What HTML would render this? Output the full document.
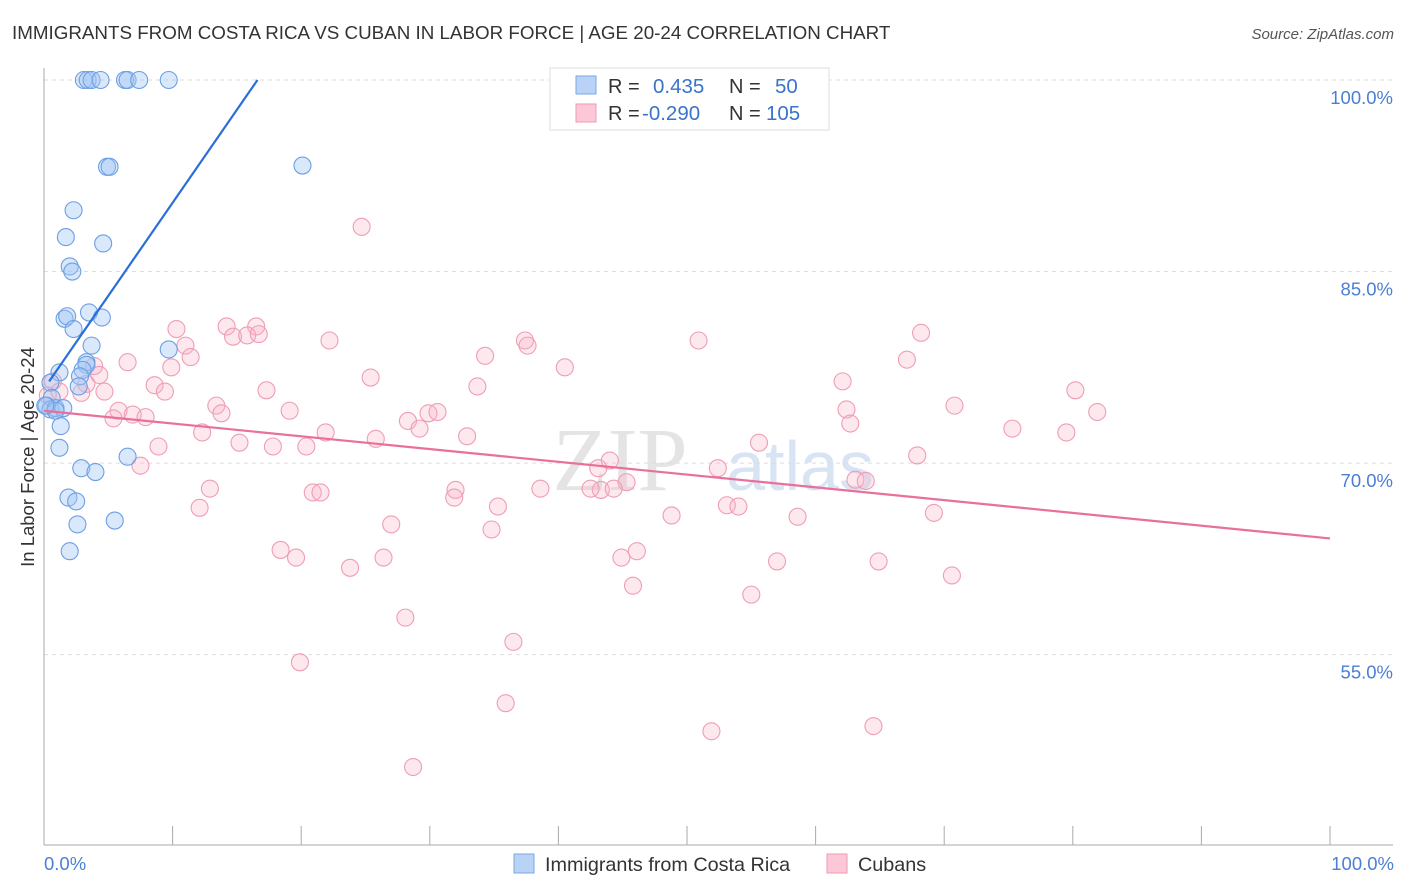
<!DOCTYPE html>
<html><head><meta charset="utf-8"><style>
body{margin:0;background:#fff;font-family:"Liberation Sans",sans-serif;}
#wrap{position:relative;width:1406px;height:892px;overflow:hidden;}
</style></head><body>
<div id="wrap">
<svg id="chart" width="1406" height="892">
<text x="12" y="39" font-size="18.8" fill="#333">IMMIGRANTS FROM COSTA RICA VS CUBAN IN LABOR FORCE | AGE 20-24 CORRELATION CHART</text>
<text x="1394" y="39" font-size="15" fill="#555" font-style="italic" text-anchor="end">Source: ZipAtlas.com</text>
<text x="620" y="490" font-size="90" fill="#e4e4e4" font-family="Liberation Serif" text-anchor="middle">ZIP</text>
<text x="800" y="490" font-size="70" fill="#d8e4f4" text-anchor="middle">atlas</text>
<g id="grid"></g>
<g id="axes"></g>
<g id="pts"></g>
<g id="lines"></g>
<text transform="translate(34,457) rotate(-90)" font-size="18.5" fill="#333" text-anchor="middle">In Labor Force | Age 20-24</text>
<text x="44" y="870" font-size="18.5" fill="#4a7fd4">0.0%</text>
<text x="1394" y="870" font-size="18.5" fill="#4a7fd4" text-anchor="end">100.0%</text>
<g>
<rect x="550" y="68" width="279" height="62" fill="#fff" stroke="#ddd"/>
<rect x="576" y="76" width="20" height="18" fill="#b8d3f5" stroke="#7aa8e6"/>
<rect x="576" y="104" width="20" height="18" fill="#fcc8d8" stroke="#ee9ab5"/>
<text x="608" y="93" font-size="20" fill="#333">R =</text>
<text x="653" y="93" font-size="20.5" fill="#3a73cc">0.435</text>
<text x="729" y="93" font-size="20" fill="#333">N =</text>
<text x="775" y="93" font-size="20.5" fill="#3a73cc">50</text>
<text x="608" y="120" font-size="20" fill="#333">R =</text>
<text x="642" y="120" font-size="20.5" fill="#3a73cc">-0.290</text>
<text x="729" y="120" font-size="20" fill="#333">N =</text>
<text x="766" y="120" font-size="20.5" fill="#3a73cc">105</text>
</g>
<g>
<rect x="514" y="854" width="20" height="19" fill="#b8d3f5" stroke="#7aa8e6"/>
<text x="545" y="871" font-size="19.8" fill="#333">Immigrants from Costa Rica</text>
<rect x="827" y="854" width="20" height="19" fill="#fcc8d8" stroke="#ee9ab5"/>
<text x="858" y="871" font-size="19.8" fill="#333">Cubans</text>
</g>
</svg>
</div>
<script>
const yTicks=[100,85,70,55];
const yTickLabels=["100.0%","85.0%","70.0%","55.0%"];
const blueX=[3.1,3.4,3.7,4.4,6.3,6.5,7.4,9.7,4.9,5.1,20.1,2.3,1.7,4.6,2.0,2.2,1.6,1.8,3.5,4.5,2.3,3.7,9.7,3.3,3.3,3.0,1.2,2.8,2.7,0.5,0.6,0.2,0.5,0.9,1.5,0.9,0.1,1.3,1.2,2.9,4.0,1.9,2.5,6.5,5.5,2.6,2.0];
const blueY=[100,100,100,100,100,100,100,100,93.2,93.2,93.3,89.8,87.7,87.2,85.4,85.0,81.3,81.5,81.8,81.4,80.5,79.2,78.9,77.9,77.7,77.3,77.1,76.8,76.0,76.3,75.1,74.5,74.2,74.3,74.3,74.1,74.5,72.9,71.2,69.6,69.3,67.3,67.0,70.5,65.5,65.2,63.1];
const pinkX=[24.7,10.3,14.2,16.5,14.7,15.8,16.7,11.0,11.4,9.9,6.5,3.9,4.3,3.3,0.7,0.3,1.2,2.9,4.7,8.6,9.4,17.3,22.2,25.4,34.3,37.4,37.6,33.7,40.5,50.9,68.2,67.1,62.1,62.4,62.7,70.8,80.2,81.9,75.3,79.5,67.9,52.4,43.1,44.0,45.3,43.3,42.5,44.3,38.6,53.1,54.0,48.8,58.6,63.1,63.9,69.2,5.8,6.9,7.9,5.4,13.4,13.8,19.1,28.3,29.2,29.9,30.6,25.8,21.9,20.4,17.8,15.2,12.3,8.9,7.5,12.9,12.1,20.9,21.5,32.0,31.9,35.3,34.8,32.9,27.0,18.4,19.6,23.8,26.4,46.1,44.9,45.8,55.0,57.0,64.9,70.6,28.1,36.5,19.9,35.9,51.9,64.5,28.7,55.6];
const pinkY=[88.5,80.5,80.7,80.7,79.9,80.0,80.1,79.2,78.3,77.5,77.9,77.6,76.9,76.2,76.4,75.3,75.6,75.5,75.6,76.1,75.6,75.7,79.6,76.7,78.4,79.6,79.2,76.0,77.5,79.6,80.2,78.1,76.4,74.2,73.1,74.5,75.7,74.0,72.7,72.4,70.6,69.6,69.6,70.2,68.5,67.9,68.0,68.0,68.0,66.7,66.6,65.9,65.8,68.7,68.6,66.1,74.1,73.8,73.6,73.5,74.5,73.9,74.1,73.3,72.7,73.9,74.0,71.9,72.4,71.3,71.3,71.6,72.4,71.3,69.8,68.0,66.5,67.7,67.7,67.9,67.3,66.6,64.8,72.1,65.2,63.2,62.6,61.8,62.6,63.1,62.6,60.4,59.7,62.3,62.3,61.2,57.9,56.0,54.4,51.2,49.0,49.4,46.2,71.6];
const blueTrend=[[0.4,76.4],[16.6,100]];
const pinkTrend=[[0,74.1],[100,64.1]];

const X=v=>44+v*12.86;
const Y=v=>80+(100-v)*12.77;
const NS="http://www.w3.org/2000/svg";
function mk(tag,attrs,parent){const e=document.createElementNS(NS,tag);for(const k in attrs)e.setAttribute(k,attrs[k]);document.getElementById(parent).appendChild(e);return e;}

yTicks.forEach((t,i)=>{
  const g=mk('line',{x1:44,x2:1393,y1:Y(t),y2:Y(t),stroke:'#ddd','stroke-dasharray':'4,4'},'grid');
  
  
  const l=mk('text',{x:1393,y:Y(t)+24,'font-size':18.5,fill:'#4a7fd4','text-anchor':'end'},'grid');
  l.textContent=yTickLabels[i];
  
  
});
let ax=mk('line',{x1:44,x2:44,y1:68,y2:845,stroke:'#aaa'},'axes');


ax=mk('line',{x1:44,x2:1393,y1:845,y2:845,stroke:'#aaa'},'axes');


for(let i=0;i<=10;i++){
  const t=mk('line',{x1:X(i*10),x2:X(i*10),y1:826,y2:845,stroke:'#aaa'},'axes');
  
  
}
pinkX.forEach((x,i)=>{
  const c=mk('circle',{cx:X(x),cy:Y(pinkY[i]),r:8.5,fill:'rgba(248,180,200,0.3)',stroke:'#ef9db6','stroke-width':1.1},'pts');
  
  
});
blueX.forEach((x,i)=>{
  const c=mk('circle',{cx:X(x),cy:Y(blueY[i]),r:8.5,fill:'rgba(160,198,244,0.4)',stroke:'#6e9fe3','stroke-width':1.1},'pts');
  
  
});
let tl=mk('line',{x1:X(blueTrend[0][0]),y1:Y(blueTrend[0][1]),x2:X(blueTrend[1][0]),y2:Y(blueTrend[1][1]),stroke:'#2a6fd8','stroke-width':2.2},'lines');


tl=mk('line',{x1:X(pinkTrend[0][0]),y1:Y(pinkTrend[0][1]),x2:X(pinkTrend[1][0]),y2:Y(pinkTrend[1][1]),stroke:'#e8709a','stroke-width':2.2},'lines');


</script>
</body></html>
